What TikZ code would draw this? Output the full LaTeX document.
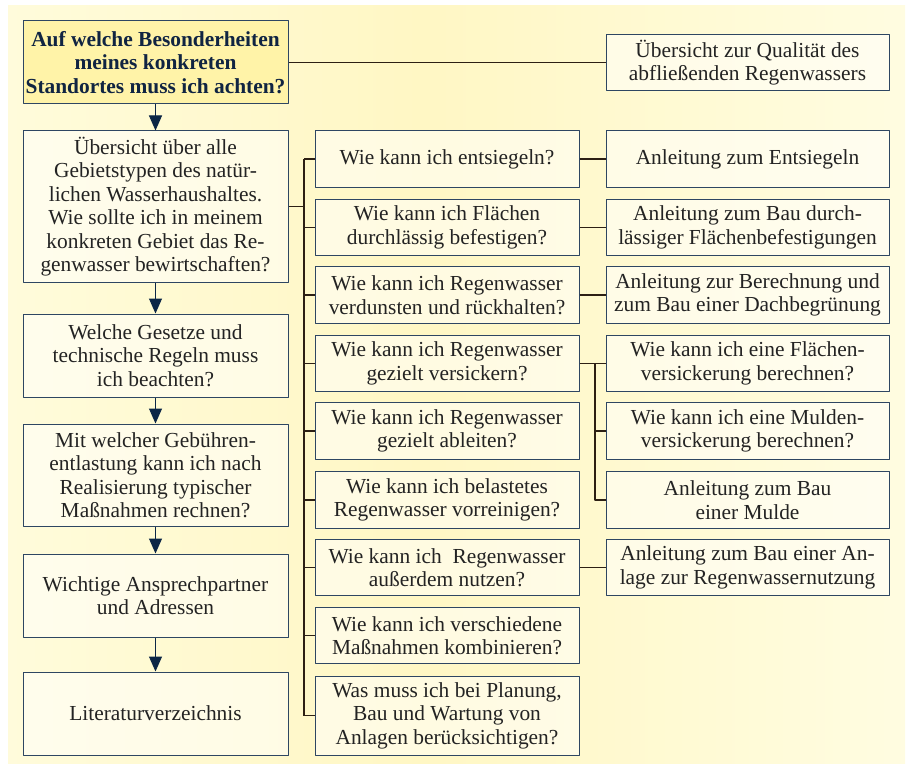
\documentclass[tikz,border=0pt]{standalone}
\usepackage{fontspec}
\setmainfont{Liberation Serif}
\usetikzlibrary{arrows.meta}

\begin{document}
\begin{tikzpicture}[x=1pt, y=-1pt, line join=round,
    every node/.style={font=\fontsize{21.4}{23.5}\selectfont, text=textgray},
    box/.style={draw=boxline, line width=1pt, fill=white, fill opacity=0.5,
                text opacity=1, align=center, inner sep=0pt},
    leftbox/.style={box, minimum width=265},
    midbox/.style={box, minimum width=264, minimum height=56.5},
    rightbox/.style={box, minimum width=283, minimum height=56.5},
    topbox/.style={leftbox, fill=topfill, fill opacity=1, text=topnavy,
                   font=\fontsize{21.4}{23.3}\selectfont\bfseries},
    link/.style={draw=linkbrown, line width=1.1pt},
    flow/.style={draw=arrownavy, line width=1pt,
                 -{Triangle[width=13pt, length=15pt]}, arrownavy}]

% ---------- helpers ----------
\definecolor{bgyellow}{RGB}{255,246,176}
\definecolor{bglight}{RGB}{255,253,228}
\definecolor{bgmid}{RGB}{255,247,196}
\definecolor{topfill}{RGB}{255,243,168}
\definecolor{boxline}{RGB}{46,70,98}
\definecolor{linkbrown}{RGB}{45,32,20}
\definecolor{arrownavy}{RGB}{12,38,70}
\definecolor{topnavy}{RGB}{16,36,66}
\definecolor{textgray}{RGB}{35,35,35}
\pgfdeclarehorizontalshading{panelshade}{100bp}{color(0bp)=(bgyellow);
  color(16bp)=(bglight); color(48bp)=(bgmid); color(78bp)=(bglight);
  color(100bp)=(bgyellow)}

% ---------- panel ----------
\useasboundingbox (0,0) rectangle (907,765);
\shade[shading=panelshade] (8,6) rectangle (905,763);

% ---------- left column ----------
\node[topbox, minimum height=83] (frage) at (155.5,62.5)
  {Auf welche Besonderheiten\\meines konkreten\\Standortes muss ich achten?};
\node[leftbox, minimum height=151] (gebiet) at (155.5,206.5)
  {Übersicht über alle\\Gebietstypen des natür-\\lichen Wasserhaushaltes.\\Wie sollte ich in meinem\\konkreten Gebiet das Re-\\genwasser bewirtschaften?};
\node[leftbox, minimum height=83] (regeln) at (155.5,355.5)
  {Welche Gesetze und\\technische Regeln muss\\ich beachten?};
\node[leftbox, minimum height=102] (gebuehr) at (155.5,475)
  {Mit welcher Gebühren-\\entlastung kann ich nach\\Realisierung typischer\\Maßnahmen rechnen?};
\node[leftbox, minimum height=83] (partner) at (155.5,595.5)
  {Wichtige Ansprechpartner\\und Adressen};
\node[leftbox, minimum height=83] (literatur) at (155.5,713.5)
  {Literaturverzeichnis};

% ---------- middle column ----------
\node[midbox] (entsiegeln) at (447,159) {Wie kann ich entsiegeln?};
\node[midbox] (flaechen) at (447,227.5) {Wie kann ich Flächen\\durchlässig befestigen?};
\node[midbox] (verdunsten) at (447,295) {Wie kann ich Regenwasser\\verdunsten und rückhalten?};
\node[midbox] (versickern) at (447,363.5) {Wie kann ich Regenwasser\\gezielt versickern?};
\node[midbox] (ableiten) at (447,431) {Wie kann ich Regenwasser\\gezielt ableiten?};
\node[midbox] (vorreinigen) at (447,500) {Wie kann ich belastetes\\Regenwasser vorreinigen?};
\node[midbox] (nutzen) at (447,567.5) {Wie kann ich\ \ Regenwasser\\außerdem nutzen?};
\node[midbox] (kombinieren) at (447,635.5) {Wie kann ich verschiedene\\Maßnahmen kombinieren?};
\node[midbox, minimum height=79] (planung) at (447,715.5)
  {Was muss ich bei Planung,\\Bau und Wartung von\\Anlagen berücksichtigen?};

% ---------- right column ----------
\node[rightbox] (qualitaet) at (747.5,62.5) {Übersicht zur Qualität des\\abfließenden Regenwassers};
\node[rightbox] (anlEntsiegeln) at (747.5,159) {Anleitung zum Entsiegeln};
\node[rightbox] (anlBefestigung) at (747.5,227.5) {Anleitung zum Bau durch-\\lässiger Flächenbefestigungen};
\node[rightbox] (anlDach) at (747.5,295) {Anleitung zur Berechnung und\\zum Bau einer Dachbegrünung};
\node[rightbox] (flVersickerung) at (747.5,363.5) {Wie kann ich eine Flächen-\\versickerung berechnen?};
\node[rightbox] (muVersickerung) at (747.5,431) {Wie kann ich eine Mulden-\\versickerung berechnen?};
\node[rightbox] (anlMulde) at (747.5,500) {Anleitung zum Bau\\einer Mulde};
\node[rightbox] (anlNutzung) at (747.5,567.5) {Anleitung zum Bau einer An-\\lage zur Regenwassernutzung};

% ---------- connectors ----------
\coordinate (spine) at (304,0);
\coordinate (subspine) at (595,0);

\foreach \a/\b in {frage/gebiet, gebiet/regeln, regeln/gebuehr, gebuehr/partner, partner/literatur}{%
  \draw[flow] (\a.south) -- (\b.north);
}

\draw[link] (frage.east) -- (qualitaet.west);
\draw[link] (gebiet.east) -- (gebiet.east -| spine);
\draw[link] (entsiegeln.west -| spine) -- (planung.west -| spine);
\foreach \m in {entsiegeln, flaechen, verdunsten, versickern, ableiten,
                vorreinigen, nutzen, kombinieren, planung}{%
  \draw[link] (\m.west -| spine) -- (\m.west);
}

\draw[link] (entsiegeln.east) -- (anlEntsiegeln.west);
\draw[link] (flaechen.east) -- (anlBefestigung.west);
\draw[link] (verdunsten.east) -- (anlDach.west);
\draw[link] (versickern.east) -- (flVersickerung.west);
\draw[link] (versickern.east -| subspine) |- (anlMulde.west);
\draw[link] (muVersickerung.west -| subspine) -- (muVersickerung.west);
\draw[link] (nutzen.east) -- (anlNutzung.west);

\end{tikzpicture}
\end{document}
